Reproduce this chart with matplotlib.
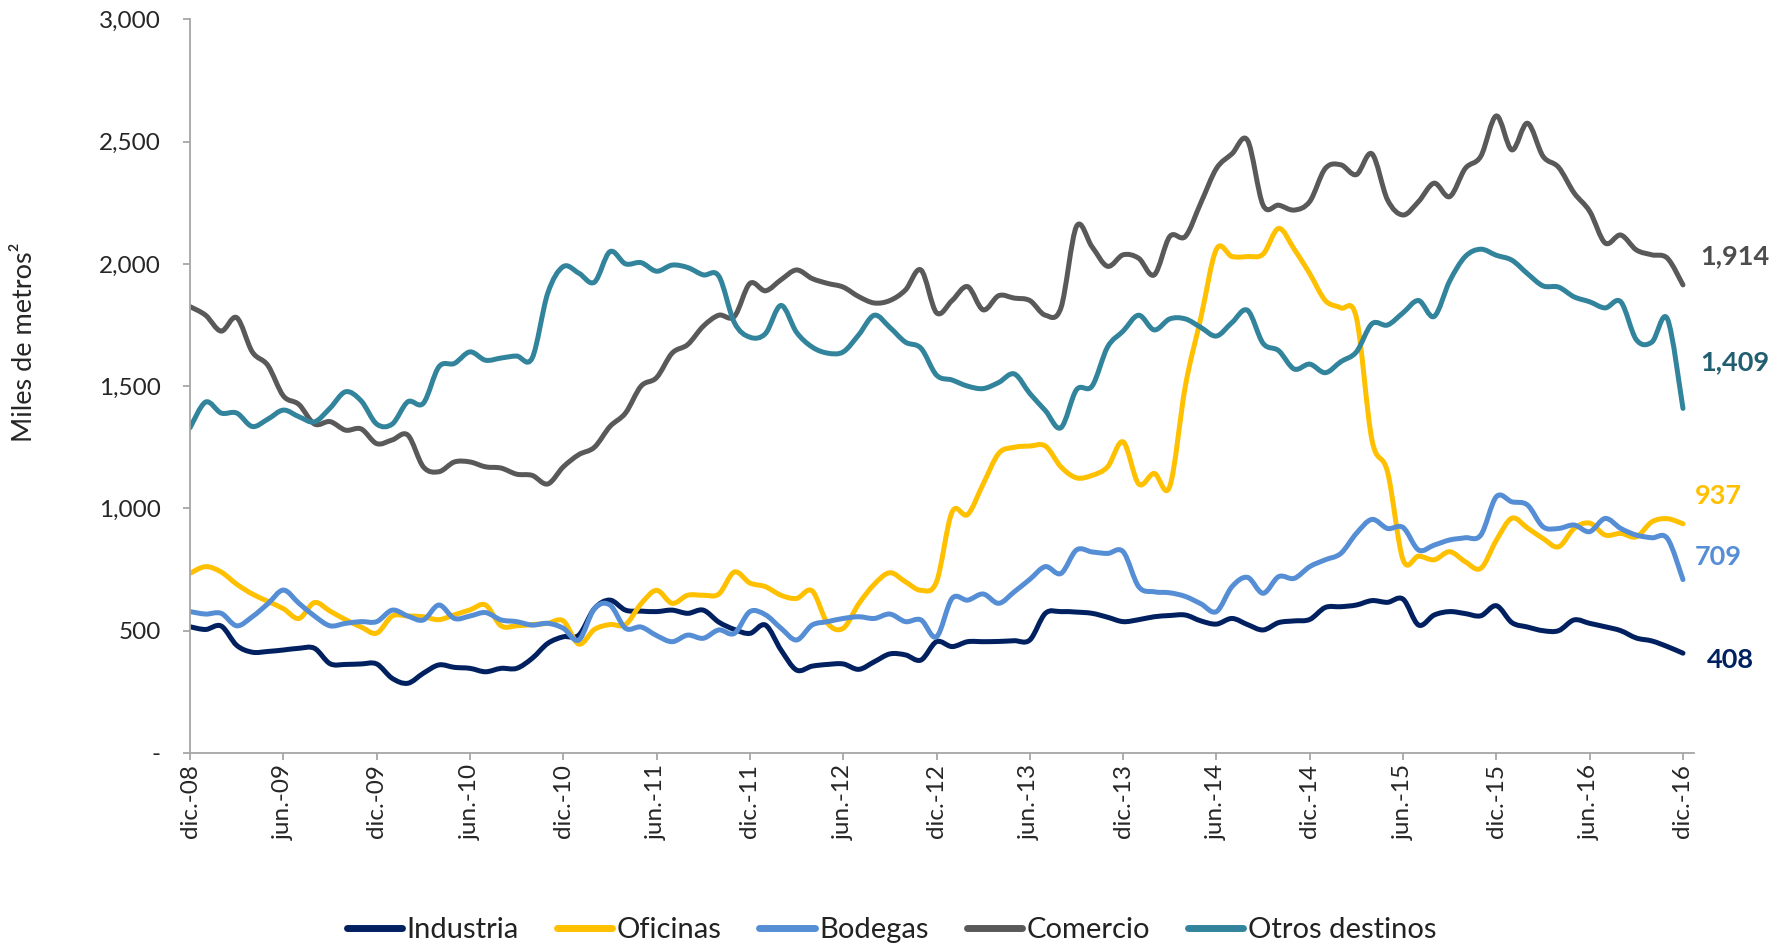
import numpy as np
import matplotlib
matplotlib.use('Agg')
import matplotlib.pyplot as plt
from matplotlib.path import Path
from matplotlib.patches import PathPatch
from matplotlib.lines import Line2D
from matplotlib.ticker import FuncFormatter

plt.rcParams['font.family'] = ['Lato', 'DejaVu Sans']

# meses dic-08 .. dic-16 (97 puntos), etiquetas cada 6 meses
tick_labels = ['dic.-08', 'jun.-09', 'dic.-09', 'jun.-10', 'dic.-10', 'jun.-11',
               'dic.-11', 'jun.-12', 'dic.-12', 'jun.-13', 'dic.-13', 'jun.-14',
               'dic.-14', 'jun.-15', 'dic.-15', 'jun.-16', 'dic.-16']

industria = [516, 505, 519, 440, 412, 415, 421, 428, 428, 365, 362, 364, 364, 305, 285, 326,
             360, 350, 346, 332, 346, 346, 387, 448, 475, 482, 590, 625, 584, 580, 578, 584,
             571, 584, 535, 505, 489, 523, 421, 339, 355, 362, 364, 342, 373, 405, 401, 380,
             455, 435, 455, 455, 456, 459, 462, 571, 578, 576, 571, 555, 537, 545, 557, 562,
             564, 540, 527, 550, 525, 503, 533, 540, 546, 595, 598, 605, 623, 616, 629, 523,
             564, 578, 570, 561, 602, 533, 515, 500, 500, 544, 530, 516, 500, 470, 458, 435,
             408]

oficinas = [735, 762, 740, 690, 650, 620, 590, 550, 615, 580, 545, 515, 490, 560, 560, 557,
            545, 565, 585, 605, 520, 520, 525, 530, 540, 445, 505, 525, 525, 610, 665, 612,
            645, 645, 650, 740, 695, 680, 645, 632, 663, 530, 510, 610, 690, 737, 700, 665,
            700, 985, 975, 1100, 1225, 1250, 1255, 1255, 1170, 1125, 1135, 1170, 1272, 1100, 1143, 1090,
            1500, 1780, 2060, 2030, 2030, 2040, 2145, 2060, 1960, 1850, 1820, 1780, 1280, 1150, 790, 805,
            790, 823, 782, 755, 870, 960, 920, 877, 843, 918, 940, 891, 898, 884, 945, 958,
            937]

bodegas = [578, 568, 571, 520, 557, 610, 666, 612, 560, 520, 530, 537, 537, 584, 560, 544,
           605, 550, 560, 574, 544, 537, 523, 530, 510, 462, 590, 605, 510, 515, 480, 455,
           482, 469, 503, 489, 578, 565, 510, 462, 523, 537, 550, 557, 550, 568, 537, 544,
           475, 632, 625, 650, 612, 659, 710, 762, 734, 830, 822, 816, 823, 680, 659, 655,
           640, 610, 578, 680, 718, 653, 721, 714, 762, 790, 816, 898, 955, 918, 922, 830,
           850, 871, 880, 891, 1048, 1027, 1014, 925, 918, 932, 905, 959, 918, 891, 880, 877,
           709]

comercio = [1825, 1790, 1725, 1780, 1640, 1585, 1460, 1425, 1345, 1355, 1320, 1325, 1265, 1280, 1300, 1170,
            1150, 1190, 1190, 1170, 1165, 1140, 1135, 1100, 1170, 1220, 1250, 1335, 1390, 1500, 1535, 1635,
            1670, 1745, 1790, 1785, 1920, 1890, 1935, 1975, 1940, 1920, 1905, 1866, 1840, 1850, 1893, 1975,
            1800, 1850, 1907, 1812, 1870, 1860, 1850, 1790, 1820, 2153, 2070, 1990, 2037, 2023, 1955, 2112,
            2112, 2250, 2390, 2450, 2505, 2240, 2240, 2220, 2255, 2390, 2405, 2365, 2450, 2262, 2200, 2255,
            2330, 2275, 2390, 2440, 2605, 2466, 2575, 2440, 2395, 2290, 2215, 2085, 2118, 2057, 2037, 2023,
            1914]

otros = [1330, 1435, 1390, 1390, 1335, 1365, 1402, 1375, 1354, 1410, 1477, 1440, 1345, 1345, 1436, 1430,
         1579, 1593, 1640, 1606, 1615, 1623, 1615, 1880, 1989, 1962, 1925, 2050, 2000, 2005, 1970, 1995,
         1985, 1955, 1950, 1760, 1700, 1715, 1830, 1720, 1660, 1635, 1640, 1710, 1790, 1740, 1680, 1655,
         1545, 1525, 1500, 1490, 1515, 1550, 1470, 1400, 1330, 1485, 1500, 1660, 1725, 1790, 1730, 1775,
         1775, 1740, 1705, 1760, 1810, 1675, 1645, 1570, 1590, 1555, 1600, 1640, 1755, 1750, 1800, 1850,
         1785, 1930, 2030, 2060, 2035, 2015, 1960, 1910, 1905, 1865, 1845, 1820, 1845, 1690, 1680, 1775,
         1409]

series = [
    ('Industria', industria, '#002060', '#002060', (24, -7)),
    ('Oficinas', oficinas, '#FFC000', '#FFC000', (12, 28)),
    ('Bodegas', bodegas, '#558ED5', '#558ED5', (12, 23)),
    ('Comercio', comercio, '#595959', '#4D4D4D', (17, 29)),
    ('Otros destinos', otros, '#31849B', '#215E70', (17, 46)),
]


def smooth_path(y):
    # curva suavizada tipo Excel (Bezier por Catmull-Rom)
    pts = np.column_stack([np.arange(len(y)), y]).astype(float)
    n = len(pts)
    verts = [pts[0]]
    codes = [Path.MOVETO]
    for i in range(n - 1):
        p0 = pts[i - 1] if i > 0 else pts[i]
        p1, p2 = pts[i], pts[i + 1]
        p3 = pts[i + 2] if i + 2 < n else pts[i + 1]
        verts += [p1 + (p2 - p0) / 6, p2 - (p3 - p1) / 6, p2]
        codes += [Path.CURVE4] * 3
    return Path(verts, codes)


fig = plt.figure(figsize=(17.83, 9.47), dpi=100)
ax = fig.add_axes([0.1066, 0.2049, 0.8434, 0.7747])

handles = []
for name, vals, color, lcolor, off in series:
    patch = PathPatch(smooth_path(vals), fill=False, edgecolor=color, lw=3.6,
                      capstyle='round', joinstyle='round')
    ax.add_patch(patch)
    handles.append(Line2D([], [], color=color, lw=5, solid_capstyle='round'))
    ax.annotate(f'{vals[-1]:,}', xy=(len(vals) - 1, vals[-1]), xytext=off,
                textcoords='offset pixels', ha='left', va='center',
                fontsize=19.5, fontweight='bold', color=lcolor, annotation_clip=False)

ax.set_xlim(0, 96.7)
ax.set_ylim(0, 3000)
ax.set_yticks(range(0, 3001, 500))
ax.yaxis.set_major_formatter(FuncFormatter(lambda v, p: '-' if v == 0 else f'{v:,.0f}'))
ax.set_xticks(range(0, 97, 6))
ax.set_xticklabels(tick_labels, rotation=90)

for s in ['top', 'right']:
    ax.spines[s].set_visible(False)
for s in ['left', 'bottom']:
    ax.spines[s].set_color('#A6A6A6')
    ax.spines[s].set_linewidth(1.3)
ax.tick_params(axis='y', length=5, width=1.3, color='#A6A6A6', pad=16,
               labelsize=17.5, labelcolor='#262626')
ax.tick_params(axis='x', length=5, width=1.3, color='#A6A6A6', pad=3,
               labelsize=17.5, labelcolor='#262626')

fig.text(25 / 1783, 1 - 342 / 947, 'Miles de metros²', rotation=90, ha='center',
         va='center', fontsize=19.5, color='#262626')

fig.legend(handles, [s[0] for s in series], loc='center', bbox_to_anchor=(0.5, 0.018),
           ncol=5, frameon=False, fontsize=21, handlelength=1.9, handletextpad=0.15,
           columnspacing=1.3, labelcolor='#222222')

fig.savefig('out.png', dpi=100)
